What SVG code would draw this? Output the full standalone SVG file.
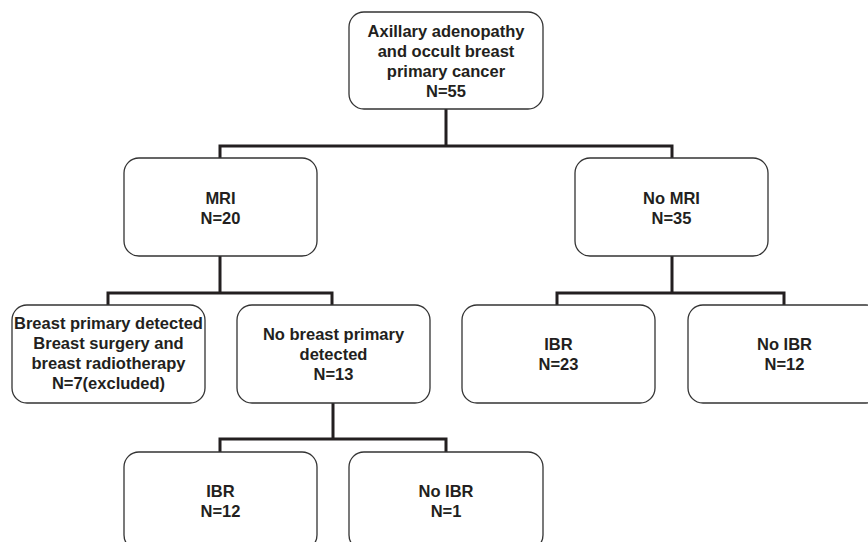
<svg xmlns="http://www.w3.org/2000/svg" width="868" height="542" viewBox="0 0 868 542">
<style>
.box{fill:#fff;stroke:#333;stroke-width:1.3}
.t{font-family:"Liberation Sans",Arial,sans-serif;font-weight:bold;font-size:16.5px;fill:#231f20;text-anchor:middle}
.c{fill:none;stroke:#231f20;stroke-width:3;stroke-linejoin:miter}
</style>
<rect width="868" height="542" fill="#fff"/>
<g id="connectors">
<path class="c" d="M446 109V146M220 158V146H672V158"/>
<path class="c" d="M220 256V293M108 305V293H332V305"/>
<path class="c" d="M672 256V293M557 305V293H784V305"/>
<path class="c" d="M333 403V439M220 452V439H446V452"/>
</g>
<g id="root">
<rect class="box" x="349" y="12" width="194" height="97" rx="15"/>
<text class="t" x="446" y="37">Axillary adenopathy</text>
<text class="t" x="446" y="57">and occult breast</text>
<text class="t" x="446" y="77">primary cancer</text>
<text class="t" x="446" y="97">N=55</text>
</g>
<g id="mri">
<rect class="box" x="124" y="158" width="193" height="98" rx="15"/>
<text class="t" x="220.5" y="204">MRI</text>
<text class="t" x="220.5" y="223.5">N=20</text>
</g>
<g id="nomri">
<rect class="box" x="575" y="158" width="193" height="98" rx="15"/>
<text class="t" x="671.5" y="204">No MRI</text>
<text class="t" x="671.5" y="223.5">N=35</text>
</g>
<g id="detected">
<rect class="box" x="12" y="305" width="193" height="98" rx="15"/>
<text class="t" x="108.5" y="329">Breast primary detected</text>
<text class="t" x="108.5" y="349">Breast surgery and</text>
<text class="t" x="108.5" y="369">breast radiotherapy</text>
<text class="t" x="108.5" y="388.5">N=7(excluded)</text>
</g>
<g id="notdetected">
<rect class="box" x="237" y="305" width="193" height="98" rx="15"/>
<text class="t" x="333.5" y="339.5">No breast primary</text>
<text class="t" x="333.5" y="359.5">detected</text>
<text class="t" x="333.5" y="379.5">N=13</text>
</g>
<g id="ibr-nomri">
<rect class="box" x="462" y="305" width="193" height="98" rx="15"/>
<text class="t" x="558.5" y="350">IBR</text>
<text class="t" x="558.5" y="369.5">N=23</text>
</g>
<g id="noibr-nomri">
<rect class="box" x="688" y="305" width="193" height="98" rx="15"/>
<text class="t" x="784.5" y="350">No IBR</text>
<text class="t" x="784.5" y="369.5">N=12</text>
</g>
<g id="ibr-mri">
<rect class="box" x="124" y="452" width="193" height="98" rx="15"/>
<text class="t" x="220.5" y="497">IBR</text>
<text class="t" x="220.5" y="516.5">N=12</text>
</g>
<g id="noibr-mri">
<rect class="box" x="349" y="452" width="194" height="98" rx="15"/>
<text class="t" x="446" y="497">No IBR</text>
<text class="t" x="446" y="516.5">N=1</text>
</g>
</svg>
